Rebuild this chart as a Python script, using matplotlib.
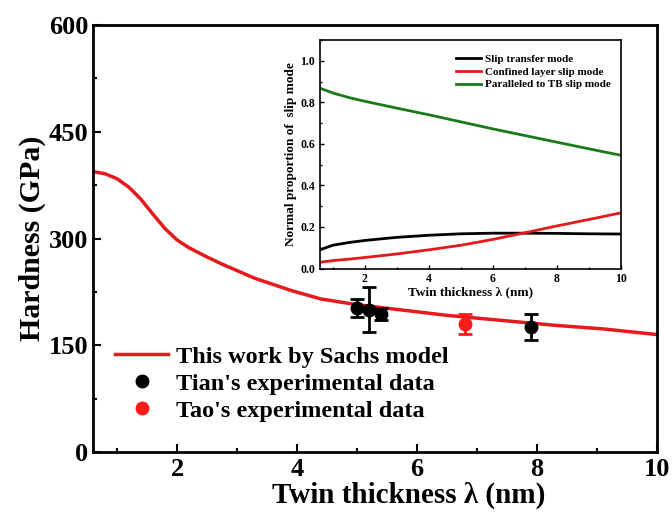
import numpy as np
import matplotlib.pyplot as plt
from matplotlib.ticker import MultipleLocator

plt.rcParams['font.family'] = ['Liberation Serif', 'DejaVu Serif']
plt.rcParams['font.weight'] = 'bold'
plt.rcParams['axes.labelweight'] = 'bold'

# modelo de Sachs (curva roja)
x_model = [0.6, 0.8, 1.0, 1.2, 1.4, 1.6, 1.8, 2.0, 2.2, 2.5, 2.75, 3.3, 3.9, 4.4, 5.0, 5.7, 6.5, 7.4, 8.3, 9.1, 10.0]
h_model = [394, 391, 384, 372, 355, 334, 314, 298, 287, 274, 264, 244, 227, 215, 207, 200, 192, 185, 178, 173, 165]

# datos experimentales
x_tian = [5.0, 5.2, 5.4, 7.9]
h_tian = [202, 200, 194, 176]
e_tian = [13, 32, 9, 18]
x_tao = [6.8]
h_tao = [180]
e_tao = [14]

# proporciones de modos de deslizamiento (inset)
x_in = [0.6, 1.0, 1.5, 2.0, 3.0, 4.0, 5.0, 6.0, 7.0, 8.0, 9.0, 10.0]
slip_transfer = [0.090, 0.112, 0.125, 0.135, 0.150, 0.160, 0.167, 0.170, 0.170, 0.169, 0.167, 0.166]
confined = [0.030, 0.038, 0.045, 0.053, 0.070, 0.090, 0.112, 0.140, 0.172, 0.205, 0.236, 0.268]
paralleled = [0.868, 0.845, 0.823, 0.805, 0.772, 0.740, 0.706, 0.672, 0.640, 0.608, 0.576, 0.545]

fig = plt.figure(figsize=(6.72, 5.13), dpi=100)
ax = fig.add_axes([93/672, 1-452/513, 564/672, 427/513])

ax.plot(x_model, h_model, color='#e41a1c', lw=2.5, label='This work by Sachs model')
ax.errorbar(x_tian, h_tian, yerr=e_tian, fmt='o', color='black', ms=9,
            capsize=5, elinewidth=2, capthick=2, label="Tian's experimental data")
ax.errorbar(x_tao, h_tao, yerr=e_tao, fmt='o', color='#ff1a1a', ms=9,
            capsize=5, elinewidth=2, capthick=2, label="Tao's experimental data")

ax.set_xlim(0.6, 10)
ax.set_ylim(0, 600)
ax.xaxis.set_major_locator(MultipleLocator(2))
ax.xaxis.set_minor_locator(MultipleLocator(1))
ax.yaxis.set_major_locator(MultipleLocator(150))
ax.yaxis.set_minor_locator(MultipleLocator(75))
ax.tick_params(which='both', direction='in', width=1.5, labelsize=19)
ax.tick_params(axis='x', pad=4)
ax.tick_params(which='major', length=6)
ax.tick_params(which='minor', length=3)
for s in ax.spines.values():
    s.set_linewidth(2)
ax.set_xlabel('Twin thickness λ (nm)', fontsize=21)
ax.xaxis.set_label_coords(0.56, -0.07)
ax.set_ylabel('Hardness (GPa)', fontsize=21.5, labelpad=2)

h, l = ax.get_legend_handles_labels()
leg = ax.legend([e[0] if hasattr(e, '__getitem__') else e for e in h], l,
                loc='lower left', bbox_to_anchor=(0.0, 0.02), frameon=False,
                fontsize=17.5, handlelength=2.2, handletextpad=0.3, labelspacing=0.2)

# inset
ins = fig.add_axes([320/672, 1-268.5/513, 301/672, 228.5/513])
ins.plot(x_in, slip_transfer, color='black', lw=2, label='Slip transfer mode')
ins.plot(x_in, confined, color='#e41a1c', lw=2, label='Confined layer slip mode')
ins.plot(x_in, paralleled, color='#1a7a1a', lw=2, label='Paralleled to TB slip mode')
ins.set_xlim(0.6, 10)
ins.set_ylim(0, 1.1)
ins.xaxis.set_major_locator(MultipleLocator(2))
ins.xaxis.set_minor_locator(MultipleLocator(1))
ins.yaxis.set_major_locator(MultipleLocator(0.2))
ins.yaxis.set_minor_locator(MultipleLocator(0.1))
ins.tick_params(which='both', direction='in', width=1, labelsize=8.5)
ins.tick_params(which='major', length=3)
ins.tick_params(which='minor', length=1.5)
for s in ins.spines.values():
    s.set_linewidth(1.2)
ins.set_xlabel('Twin thickness λ (nm)', fontsize=9.5, labelpad=1)
ins.set_ylabel('Normal proportion of  slip mode', fontsize=9.5, labelpad=2)
ins.legend(loc='upper right', bbox_to_anchor=(1.0, 0.98), frameon=False, fontsize=8,
           handlelength=2.2, labelspacing=0.25, handletextpad=0.4)

fig.savefig('out.png', dpi=100)
